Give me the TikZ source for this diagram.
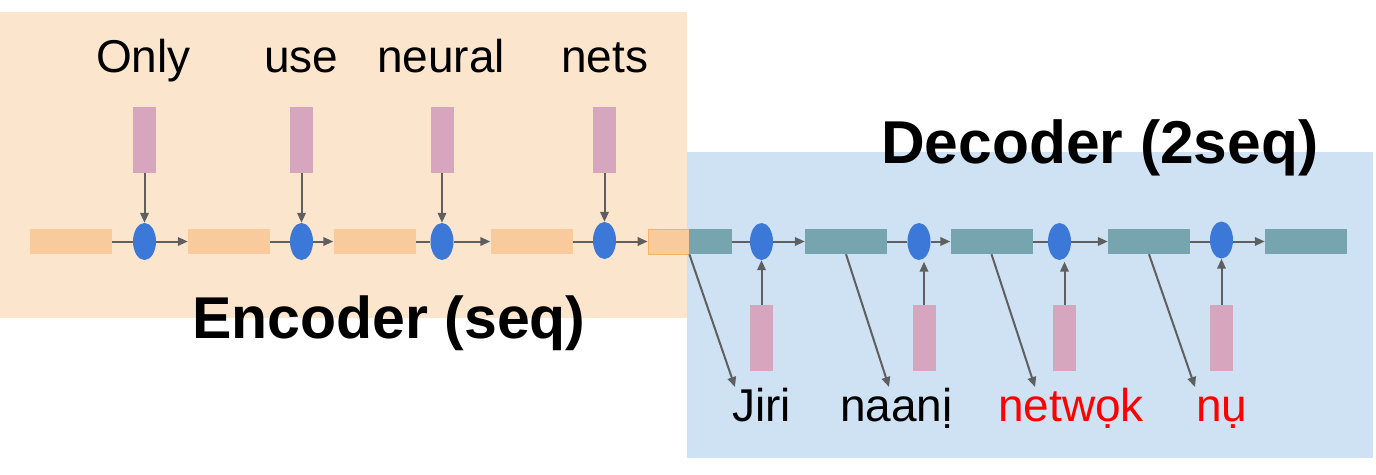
\documentclass[tikz,border=0pt]{standalone}
\usepackage{fontspec}
\setmainfont{Liberation Sans}
\usetikzlibrary{arrows.meta,shapes.geometric}
\definecolor{bgorange}{HTML}{FCE5CD}
\definecolor{bgblue}{HTML}{CFE2F3}
\definecolor{encfill}{HTML}{F9CB9C}
\definecolor{encdraw}{HTML}{F6B26B}
\definecolor{decfill}{HTML}{76A5AF}
\definecolor{pinkfill}{HTML}{D5A6BD}
\definecolor{cellblue}{HTML}{3C78D8}
\definecolor{arrgray}{HTML}{5F5F5F}
\definecolor{redtext}{HTML}{FF0000}
\begin{document}
\begin{tikzpicture}[x=1pt,y=-1pt,
  hbox/.style={rectangle, inner sep=0pt, minimum width=82pt, minimum height=25pt, fill=encfill},
  dbox/.style={rectangle, inner sep=0pt, minimum width=82pt, minimum height=25pt, fill=decfill},
  cell/.style={ellipse, inner sep=0pt, minimum width=23pt, minimum height=37pt, fill=cellblue},
  pinkbox/.style={rectangle, inner sep=0pt, minimum width=23pt, minimum height=66pt, fill=pinkfill},
  conn/.style={draw=arrgray, line width=2pt},
  arr/.style={conn, -{Triangle[length=10pt,width=8.5pt]}},
  word/.style={inner sep=0pt, anchor=base west, font=\fontsize{46}{50}\selectfont},
  title/.style={inner sep=0pt, anchor=base west, font=\bfseries\fontsize{#1}{#1}\selectfont}
]
\useasboundingbox (0,0) rectangle (1376,474);
% backgrounds
\fill[bgorange] (0,12) rectangle (687,318);
\fill[bgblue] (687,152) rectangle (1373,458);

% encoder row
\node[hbox] (h1) at (71,241.5) {};
\node[hbox] (h2) at (229,241.5) {};
\node[hbox] (h3) at (374.5,241.5) {};
\node[hbox] (h4) at (531.5,241.5) {};
\node[rectangle, inner sep=0pt, minimum width=41pt, minimum height=25pt, fill=encfill, draw=encdraw, line width=0.8pt] (h5) at (668.5,241.5) {};
\node[rectangle, inner sep=0pt, minimum width=43pt, minimum height=25pt, fill=decfill] (h5t) at (710.5,241.5) {};
\node[dbox] (d2) at (846,241.5) {};
\node[dbox] (d3) at (991.5,241.5) {};
\node[dbox] (d4) at (1149,241.5) {};
\node[dbox] (d5) at (1306,241.5) {};

\node[cell] (e1) at (144.5,241.5) {};
\node[cell] (e2) at (301.5,241.5) {};
\node[cell] (e3) at (442,241.5) {};
\node[cell] (e4) at (604.5,240.5) {};
\node[cell] (c1) at (761.5,241.5) {};
\node[cell] (c2) at (919,241.5) {};
\node[cell] (c3) at (1059.5,241.5) {};
\node[cell] (c4) at (1221.5,240) {};

% top inputs
\node[pinkbox] (p1) at (144.5,140) {};
\node[pinkbox] (p2) at (301.5,140) {};
\node[pinkbox] (p3) at (442,140) {};
\node[pinkbox] (p4) at (604.5,140) {};
% bottom inputs
\node[pinkbox] (q1) at (761.5,338) {};
\node[pinkbox] (q2) at (924,338) {};
\node[pinkbox] (q3) at (1064.5,338) {};
\node[pinkbox] (q4) at (1221.5,338) {};

% horizontal connectors
\draw[conn] (h1.east) -- (e1.west);
\draw[arr] (e1.east) -- (h2.west);
\draw[conn] (h2.east) -- (e2.west);
\draw[arr] (e2.east) -- (h3.west);
\draw[conn] (h3.east) -- (e3.west);
\draw[arr] (e3.east) -- (h4.west);
\draw[conn] (h4.east) -- (e4.west |- h4.east);
\draw[arr] (e4.east |- h5.west) -- (h5.west);
\draw[conn] (h5t.east) -- (c1.west);
\draw[arr] (c1.east) -- (d2.west);
\draw[conn] (d2.east) -- (c2.west);
\draw[arr] (c2.east) -- (d3.west);
\draw[conn] (d3.east) -- (c3.west);
\draw[arr] (c3.east) -- (d4.west);
\draw[conn] (d4.east) -- (c4.west |- d4.east);
\draw[arr] (c4.east |- d5.west) -- (d5.west);

% vertical connectors
\draw[arr] (p1.south) -- (e1.north);
\draw[arr] (p2.south) -- (e2.north);
\draw[arr] (p3.south) -- (e3.north);
\draw[arr] (p4.south) -- (e4.north);
\draw[arr] (q1.north) -- (q1.north |- c1.south);
\draw[arr] (q2.north) -- ([yshift=-1.5pt]q2.north |- c2.south);
\draw[arr] (q3.north) -- ([yshift=-1.5pt]q3.north |- c3.south);
\draw[arr] (q4.north) -- (q4.north |- c4.south);

% output words
\node[word] (w1) at (732,421) {Jiri};
\node[word] (w2) at (840,421) {naanị};
\node[word, text=redtext] (w3) at (998,421) {netwọk};
\node[word, text=redtext] (w4) at (1196,421) {nụ};
\coordinate (t1) at (735,387);
\coordinate (t2) at (889,387);
\coordinate (t3) at (1035,387);
\coordinate (t4) at (1195,387);
\draw[arr] (h5.south east) -- (t1);
\draw[arr] (d2.south) -- (t2);
\draw[arr] (d3.south) -- (t3);
\draw[arr] (d4.south) -- (t4);

% input words
\node[word] (i1) at (96,72) {Only};
\node[word] (i2) at (264,72) {use};
\node[word] (i3) at (377,72) {neural};
\node[word] (i4) at (561,72) {nets};

% titles
\node[title=59] (enc) at (192,338) {Encoder (seq)};
\node[title=60.5] (dec) at (881,163) {Decoder (2seq)};
\end{tikzpicture}
\end{document}
